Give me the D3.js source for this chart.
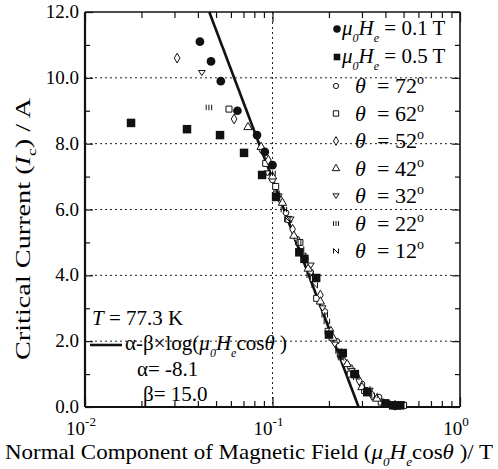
<!DOCTYPE html>
<html><head><meta charset="utf-8"><script src="https://d3js.org/d3.v7.min.js"></script></head>
<body style="margin:0">
<svg width="498" height="469"></svg>
<script>
// ---- data: [normal field (T), Ic (A)] ----
const field01T = [[0.041,11.1],[0.047,10.5],[0.053,9.9],[0.065,9.0],[0.0827,8.26],[0.091,7.75],[0.1,7.35]];
const field05T = [[0.0176,8.63],[0.035,8.44],[0.0525,8.26],[0.0705,7.72],[0.088,7.05],[0.1045,6.38],[0.139,4.7],
                  [0.148,4.5],[0.171,3.92],[0.2,2.2],[0.237,1.64],[0.275,1.0],[0.32,0.45],[0.4,0.1],[0.44,0.05],[0.46,0.05],[0.48,0.05]];
const theta72 = [[0.088,7.8],[0.1,6.9],[0.118,5.9],[0.135,5.1],[0.16,4.1],[0.19,2.9],[0.22,2.0],[0.26,1.2],[0.3,0.7],[0.37,0.3],[0.42,0.1]];
const theta62 = [[0.0586,9.05],[0.092,7.4],[0.104,6.7],[0.122,5.7],[0.14,5.0],[0.165,3.9],[0.172,3.3],[0.198,2.3],[0.23,1.6],[0.26,1.0],[0.31,0.5],[0.38,0.15],[0.5,0.05]];
const theta52 = [[0.031,10.6],[0.0624,8.75],[0.095,7.5],[0.11,6.3],[0.128,5.4],[0.15,4.5],[0.18,3.4],[0.205,2.3],[0.24,1.4],[0.29,0.8],[0.34,0.35],[0.45,0.05]];
const theta42 = [[0.074,8.5],[0.087,7.9],[0.1,7.0],[0.113,6.2],[0.13,5.2],[0.155,4.2],[0.18,3.2],[0.21,2.1],[0.25,1.3],[0.3,0.6],[0.36,0.25]];
const theta32 = [[0.042,10.15],[0.094,7.1],[0.108,6.4],[0.125,5.7],[0.145,4.6],[0.16,4.3],[0.185,3.0],[0.215,1.9],[0.265,1.1],[0.33,0.5],[0.4,0.15]];
const theta22 = [[0.0458,9.1],[0.1,7.1],[0.115,6.0],[0.137,5.0],[0.158,4.0],[0.19,2.8],[0.225,1.7],[0.28,0.9],[0.35,0.35]];
const theta12 = [[0.105,6.5],[0.12,5.7],[0.142,4.8],[0.168,3.7],[0.195,2.6],[0.232,1.5],[0.27,1.0],[0.32,0.55]];
// fit line alpha - beta*log(x): end points
const fitLine = [[0.046,12],[0.288,0]];

const yTicks = [0,2,4,6,8,10,12];
const yTickLabels = ["0.0","2.0","4.0","6.0","8.0","10.0","12.0"];
const xDecades = [0.01,0.1,1];
const xDecadeExp = ["-2","-1","0"];
const angles = ["72","62","52","42","32","22","12"];

const W = 498, H = 469;
const m = {left: 85, top: 12, right: 38, bottom: 62};
const iw = W - m.left - m.right, ih = H - m.top - m.bottom;
const face = '"Liberation Serif", monospace';

const svg = d3.select("svg");
const g = svg.append("g").attr("transform", `translate(${m.left},${m.top})`);

const x = d3.scaleLog().domain([0.01, 1]).range([0, iw]);
const y = d3.scaleLinear().domain([0, 12]).range([ih, 0]);

// grid (dotted)
g.selectAll(".hgrid").data([2,4,6,8,10]).enter().append("line")
  .attr("x1", 0).attr("x2", iw).attr("y1", d => y(d)).attr("y2", d => y(d))
  .attr("stroke", "#222").attr("stroke-width", 1).attr("stroke-dasharray", "2,3");
g.append("line").attr("x1", x(0.1)).attr("x2", x(0.1)).attr("y1", 0).attr("y2", ih)
  .attr("stroke", "#222").attr("stroke-width", 1).attr("stroke-dasharray", "2,3");

// ticks
const xMinor = [];
[0.01, 0.1].forEach(dec => { for (let k = 2; k <= 9; k++) xMinor.push(dec * k); });
const yMinor = d3.range(1, 12, 2);

function styleAxis(sel) {
  sel.select(".domain").remove();
  sel.selectAll(".tick text").remove();
  sel.selectAll(".tick line").attr("stroke", "#111").attr("stroke-width", 1.2);
}
g.append("g").attr("transform", `translate(0,${ih})`)
  .call(d3.axisBottom(x).tickValues(xMinor).tickSize(-6).tickFormat("")).call(styleAxis);
g.append("g").attr("transform", `translate(0,${ih})`)
  .call(d3.axisBottom(x).tickValues(xDecades).tickSize(-10).tickFormat("")).call(styleAxis);
g.append("g")
  .call(d3.axisTop(x).tickValues(xMinor).tickSize(-6).tickFormat("")).call(styleAxis);
g.append("g")
  .call(d3.axisTop(x).tickValues(xDecades).tickSize(-10).tickFormat("")).call(styleAxis);
g.append("g").call(d3.axisLeft(y).tickValues(yMinor).tickSize(-5).tickFormat("")).call(styleAxis);
g.append("g").call(d3.axisLeft(y).tickValues(yTicks).tickSize(-8).tickFormat("")).call(styleAxis);
g.append("g").attr("transform", `translate(${iw},0)`)
  .call(d3.axisRight(y).tickValues(yMinor).tickSize(-5).tickFormat("")).call(styleAxis);
g.append("g").attr("transform", `translate(${iw},0)`)
  .call(d3.axisRight(y).tickValues(yTicks).tickSize(-8).tickFormat("")).call(styleAxis);

// frame
g.append("line").attr("x1", 0).attr("x2", iw).attr("y1", 0).attr("y2", 0).attr("stroke", "#111").attr("stroke-width", 1.3);
g.append("line").attr("x1", iw).attr("x2", iw).attr("y1", 0).attr("y2", ih).attr("stroke", "#111").attr("stroke-width", 1.6);
g.append("line").attr("x1", 0).attr("x2", 0).attr("y1", 0).attr("y2", ih).attr("stroke", "#111").attr("stroke-width", 2.2);
g.append("line").attr("x1", 0).attr("x2", iw).attr("y1", ih).attr("y2", ih).attr("stroke", "#111").attr("stroke-width", 2.2);

// tick labels
g.selectAll(".ylab").data(yTicks).enter().append("text")
  .attr("x", -6).attr("y", d => y(d) + 6).attr("text-anchor", "end")
  .attr("font-size", 19).text((d, i) => yTickLabels[i]);
const xl = g.selectAll(".xlab").data(xDecades).enter().append("text")
  .attr("x", d => x(d) - 4).attr("y", ih + 28).attr("text-anchor", "middle").attr("font-size", 19);
xl.append("tspan").text("10");
xl.append("tspan").attr("dy", -9).attr("font-size", 13).text((d, i) => xDecadeExp[i]);

// custom marker shapes
const symIII = { draw(ctx, size) { const r = Math.sqrt(size) / 2;
  [-r, 0, r].forEach(px => { ctx.moveTo(px, -r); ctx.lineTo(px, r); }); } };
const symN = { draw(ctx, size) { const r = Math.sqrt(size) / 2;
  ctx.moveTo(-r, r); ctx.lineTo(-r, -r); ctx.lineTo(r, r); ctx.lineTo(r, -r); } };
const triDown = { draw(ctx, size) { const r = Math.sqrt(size) / 1.6;
  ctx.moveTo(-r, -r * 0.7); ctx.lineTo(r, -r * 0.7); ctx.lineTo(0, r * 0.8); ctx.closePath(); } };

const series = [
  {data: theta72, type: d3.symbolCircle, size: 26, fill: "#fff"},
  {data: theta62, type: d3.symbolSquare, size: 36, fill: "#fff"},
  {data: theta52, type: d3.symbolDiamond, size: 28, fill: "#fff"},
  {data: theta42, type: d3.symbolTriangle, size: 30, fill: "#fff"},
  {data: theta32, type: triDown, size: 30, fill: "#fff"},
  {data: theta22, type: symIII, size: 30, fill: "none"},
  {data: theta12, type: symN, size: 30, fill: "none"},
  {data: field05T, type: d3.symbolSquare, size: 72, fill: "#111"},
  {data: field01T, type: d3.symbolCircle, size: 60, fill: "#111"}
];

// fit line
g.append("path").datum(fitLine)
  .attr("d", d3.line().x(d => x(d[0])).y(d => y(d[1])))
  .attr("fill", "none").attr("stroke", "#111").attr("stroke-width", 2.6);

series.forEach(s => {
  const sym = d3.symbol().type(s.type).size(s.size);
  g.selectAll(null).data(s.data).enter().append("path")
    .attr("transform", d => `translate(${x(d[0])},${y(d[1])})`)
    .attr("d", sym)
    .attr("fill", s.fill)
    .attr("stroke", "#111").attr("stroke-width", s.fill === "#111" ? 0 : 1);
});

// legend (top right)
const lg = svg.append("g");
function muHe(t) {
  t.append("tspan").attr("font-style", "italic").text("μ");
  t.append("tspan").attr("font-style", "italic").attr("font-size", 12).attr("dy", 7).text("0");
  t.append("tspan").attr("font-style", "italic").attr("dy", -7).text("H");
  t.append("tspan").attr("font-style", "italic").attr("font-size", 12).attr("dy", 7).text("e");
}
[[d3.symbolCircle, 44, "0.1 T", 35], [d3.symbolSquare, 44, "0.5 T", 63]].forEach(([type, size, lab, ly]) => {
  lg.append("path").attr("transform", `translate(337,${ly - 6})`).attr("d", d3.symbol().type(type).size(size)).attr("fill", "#111");
  const t = lg.append("text").attr("x", 342).attr("y", ly).attr("font-size", 21);
  muHe(t);
  t.append("tspan").attr("dy", -7).text(" = " + lab);
});
angles.forEach((a, i) => {
  const ly = 93 + i * 27.5;
  const s = series[i];
  lg.append("path").attr("transform", `translate(336,${ly - 7})`)
    .attr("d", d3.symbol().type(s.type).size(s.size * 0.8))
    .attr("fill", s.fill).attr("stroke", "#111").attr("stroke-width", 1);
  lg.append("text").attr("x", 355).attr("y", ly).attr("font-size", 22).attr("font-style", "italic").text("θ");
  const t = lg.append("text").attr("x", 377).attr("y", ly).attr("font-size", 22);
  t.append("tspan").text("= " + a);
  t.append("tspan").attr("dy", -9).attr("font-size", 14).text("o");
});

// annotations
const an = svg.append("g");
const tt = an.append("text").attr("x", 92).attr("y", 325).attr("font-size", 21);
tt.append("tspan").attr("font-style", "italic").text("T");
tt.append("tspan").text(" = 77.3 K");
an.append("line").attr("x1", 90).attr("x2", 122).attr("y1", 345).attr("y2", 345).attr("stroke", "#111").attr("stroke-width", 2.6);
const ft = an.append("text").attr("x", 125).attr("y", 350).attr("font-size", 21);
ft.append("tspan").text("α-β×log(");
muHe(ft);
ft.append("tspan").attr("dy", -7).text("cos");
ft.append("tspan").attr("font-style", "italic").text("θ");
ft.append("tspan").text(" )");
an.append("text").attr("x", 137).attr("y", 376).attr("font-size", 21).text("α= -8.1");
an.append("text").attr("x", 143).attr("y", 401).attr("font-size", 21).text("β= 15.0");

// axis titles
const xt = svg.append("text").attr("x", 5).attr("y", 459).attr("font-size", 21)
  .attr("textLength", 488).attr("lengthAdjust", "spacingAndGlyphs");
xt.append("tspan").text("Normal Component of Magnetic Field (");
muHe(xt);
xt.append("tspan").attr("dy", -7).text("cos");
xt.append("tspan").attr("font-style", "italic").text("θ");
xt.append("tspan").text(" )/ T");

const yt = svg.append("text").attr("transform", "translate(30,360) rotate(-90)")
  .attr("font-size", 21).attr("textLength", 262).attr("lengthAdjust", "spacingAndGlyphs");
yt.append("tspan").text("Critical Current (");
yt.append("tspan").attr("font-style", "italic").text("I");
yt.append("tspan").attr("font-size", 13).attr("dy", 6).text("c");
yt.append("tspan").attr("dy", -6).text(") / A");

// serif face on every label and span
svg.selectAll("text, tspan").style("font-family", face);
</script>
</body>
</html>
